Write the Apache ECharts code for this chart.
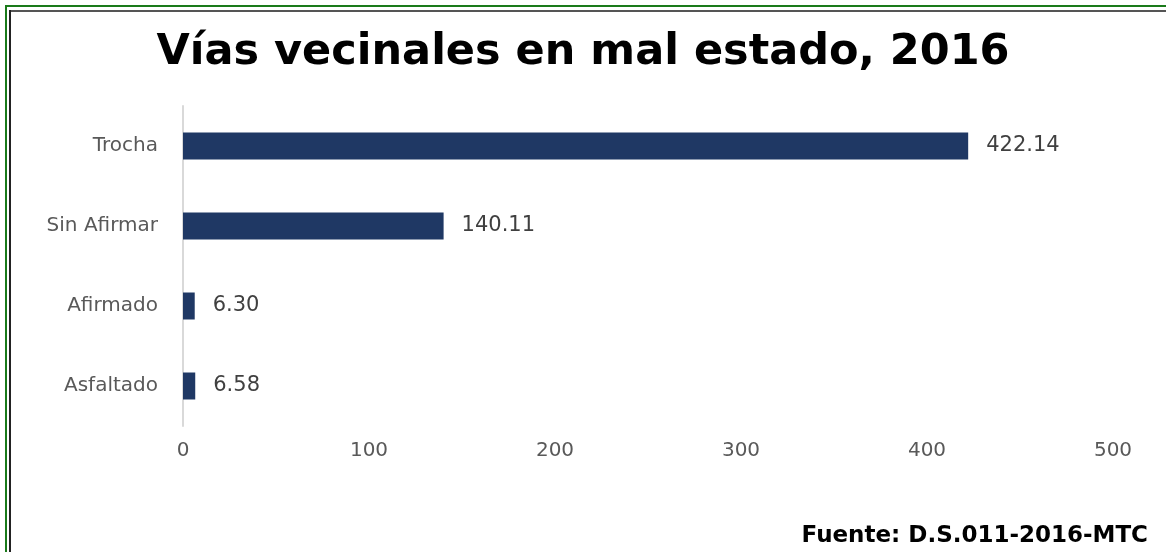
<!DOCTYPE html>
<html><head><meta charset="utf-8">
<script src="https://cdn.jsdelivr.net/npm/echarts@6/dist/echarts.min.js"></script>
<style>html,body{margin:0;padding:0;background:#fff}#c{width:1166px;height:552px}</style>
</head><body><div id="c"></div>
<script>
const categories = ['Asfaltado', 'Afirmado', 'Sin Afirmar', 'Trocha'];
const values = [6.58, 6.30, 140.11, 422.14];
const xTicks = [0, 100, 200, 300, 400, 500];
const titleText = 'Vías vecinales en mal estado, 2016';
const sourceText = 'Fuente: D.S.011-2016-MTC';

const chart = echarts.init(document.getElementById('c'));
chart.setOption({
  backgroundColor: '#fff',
  animation: false,
  title: {
    text: titleText, left: 'center', top: 26,
    textStyle: { fontFamily: 'DejaVu Sans, sans-serif', fontWeight: 'bold', fontSize: 43, color: '#000' }
  },
  grid: { left: 183, right: 53, top: 106, bottom: 126, containLabel: false },
  xAxis: {
    type: 'value', min: xTicks[0], max: xTicks[xTicks.length - 1], interval: 100,
    axisLine: { show: false }, axisTick: { show: false }, splitLine: { show: false },
    axisLabel: { color: '#595959', fontSize: 20, margin: 15, fontFamily: 'DejaVu Sans, sans-serif' }
  },
  yAxis: {
    type: 'category', data: categories,
    axisLine: { show: true, lineStyle: { color: '#d9d9d9', width: 2 } },
    axisTick: { show: false },
    axisLabel: { color: '#595959', fontSize: 20, margin: 25, fontFamily: 'DejaVu Sans, sans-serif' }
  },
  series: [{
    type: 'bar', data: values, barWidth: 27,
    itemStyle: { color: '#1f3864' },
    label: {
      show: true, position: 'right', distance: 18, color: '#404040', fontSize: 21,
      fontFamily: 'DejaVu Sans, sans-serif',
      formatter: p => p.value.toFixed(2)
    }
  }],
  graphic: [
    { type: 'rect', shape: { x: 5, y: 5, width: 1170, height: 2 }, style: { fill: '#1a7a1a' } },
    { type: 'rect', shape: { x: 5, y: 5, width: 2, height: 560 }, style: { fill: '#1a7a1a' } },
    { type: 'rect', shape: { x: 9, y: 10, width: 1170, height: 2 }, style: { fill: '#555' } },
    { type: 'rect', shape: { x: 9, y: 10, width: 2, height: 560 }, style: { fill: '#222' } },
    { type: 'text', right: 18, bottom: 4,
      style: { text: sourceText, font: 'bold 23px "DejaVu Sans", sans-serif', fill: '#000' } }
  ]
});
</script></body></html>
